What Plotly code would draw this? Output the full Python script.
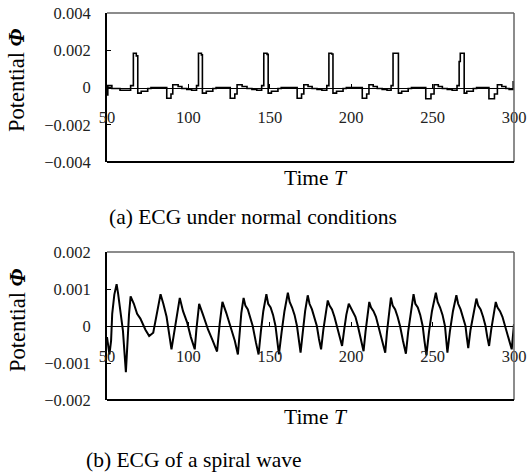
import plotly.graph_objects as go

# ---------------- data ----------------
# (a) normal ECG, stepped signal
top_t = [50.0, 50.5, 53.0, 58.0, 64.5, 66.2, 68.0, 68.9, 71.0, 75.0, 77.0, 86.7, 89.3, 90.4, 93.7, 96.0, 99.0, 102.0, 105.0,
         106.2, 108.0, 108.6, 111.0, 115.0, 117.0, 125.7, 128.5, 129.9, 133.0, 136.0, 139.0, 142.0, 145.0,
         146.3, 148.3, 149.0, 151.0, 155.0, 157.0, 166.8, 169.5, 170.9, 173.5, 176.0, 179.0, 182.0, 185.0,
         186.3, 188.0, 188.8, 191.0, 195.0, 197.0, 206.8, 209.5, 210.9, 213.5, 216.0, 219.0, 222.0, 224.5,
         225.7, 228.0, 229.0, 231.0, 235.0, 237.0, 245.8, 249.0, 250.9, 253.5, 256.0, 259.0, 262.0, 265.0,
         266.3, 267.0, 269.4, 271.0, 275.0, 277.0, 284.6, 288.0, 289.8, 292.5, 295.0, 297.0, 299.5, 300.0]
top_phi = [-4.0e-4, 1.0e-4, -0.5e-4, -1.5e-4, 1.0e-4, 18.4e-4, 17.0e-4, -3.0e-4, -2.0e-4, -0.5e-4, 0.0, -5.8e-4, -3.5e-4, 1.5e-4, 0.5e-4, -0.5e-4, -1.0e-4, -1.5e-4, 1.0e-4,
           18.4e-4, 17.5e-4, -3.0e-4, -2.0e-4, -0.5e-4, 0.0, -5.8e-4, -3.5e-4, 1.5e-4, 0.5e-4, -0.5e-4, -1.0e-4, -1.5e-4, 1.0e-4,
           18.4e-4, 17.8e-4, -3.0e-4, -2.0e-4, -0.5e-4, 0.0, -5.8e-4, -3.5e-4, 1.5e-4, 0.5e-4, -0.5e-4, -1.0e-4, -1.5e-4, 1.0e-4,
           18.4e-4, 18.0e-4, -3.0e-4, -2.0e-4, -0.5e-4, 0.0, -5.8e-4, -3.5e-4, 1.5e-4, 0.5e-4, -0.5e-4, -1.0e-4, -1.5e-4, 1.0e-4,
           18.4e-4, 18.4e-4, -3.0e-4, -2.0e-4, -0.5e-4, 0.0, -6.0e-4, -3.5e-4, 1.5e-4, 0.5e-4, -0.5e-4, -1.0e-4, -1.5e-4, 1.0e-4,
           14.0e-4, 18.4e-4, -3.0e-4, -2.0e-4, -0.5e-4, 0.0, -6.0e-4, -3.5e-4, 1.5e-4, 0.5e-4, -0.5e-4, -1.0e-4, 3.0e-4, 3.0e-4]

# (b) spiral-wave ECG
bot_t = [50.0, 50.5, 51.5, 52.5, 53.2, 54.5, 55.9, 56.8, 57.8, 58.8, 59.8, 61.6, 62.5, 63.5, 64.5, 66.5, 68.5, 70.5,
         73.6, 75.9, 78.4, 80.5, 82.9, 84.6, 86.6, 89.6, 92.3, 94.7, 96.7, 99.2, 101.5, 103.9, 104.9, 106.6, 109.0,
         112.1, 115.0, 117.6, 119.2, 120.9, 123.3, 126.4, 128.5, 130.4,
         131.5, 132.5, 133.9, 135.0, 136.5, 138.0, 139.5, 141.5, 143.1,
         144.5, 146.0, 147.9, 149.0, 150.5, 152.0, 153.5, 154.5, 155.6,
         157.3, 159.0, 161.1, 162.2, 163.7, 165.2, 166.7, 167.8, 168.9,
         170.3, 171.7, 173.3, 174.4, 175.9, 177.4, 178.9, 180.2, 181.5,
         182.9, 184.2, 185.6, 186.7, 188.2, 189.7, 191.2, 192.8, 194.4,
         195.7, 197.0, 198.5, 199.6, 201.1, 202.6, 204.1, 205.9, 207.6,
         208.8, 209.9, 211.1, 212.2, 213.7, 215.2, 216.7, 218.8, 220.9,
         222.0, 223.1, 224.4, 225.5, 227.0, 228.5, 230.0, 231.8, 233.6,
         235.0, 236.6, 238.3, 239.4, 240.9, 242.4, 243.9, 245.0, 246.2,
         247.8, 249.6, 252.0, 253.1, 254.6, 256.1, 257.6, 258.4, 259.1,
         260.6, 262.5, 264.6, 265.7, 267.2, 268.7, 270.2, 271.0, 271.9,
         273.3, 275.0, 276.9, 278.0, 279.5, 281.0, 282.5, 283.6, 284.7,
         286.0, 287.4, 288.8, 289.9, 291.4, 292.9, 294.4, 296.5, 298.6, 300.0]
bot_phi = [-3.0e-4, -5.0e-4, -7.7e-4, -4.0e-4, 3.3e-4, 8.5e-4, 11.3e-4, 8.8e-4, 5.0e-4, 2.5e-4, -1.3e-4, -12.5e-4, -4.0e-4, 3.0e-4, 8.0e-4, 6.0e-4, 3.3e-4, 2.0e-4,
           -1.0e-4, -2.7e-4, -1.8e-4, 3.3e-4, 8.6e-4, 6.0e-4, 2.5e-4, -6.3e-4, 1.0e-4, 7.6e-4, 4.0e-4, 1.0e-4, -3.0e-4, -6.3e-4, -1.0e-4, 6.0e-4, 3.0e-4,
           -1.0e-4, -4.0e-4, -6.9e-4, 0.5e-4, 6.5e-4, 3.5e-4, -1.0e-4, -4.0e-4, -7.7e-4,
           -1.5e-4, 3.5e-4, 7.6e-4, 5.5e-4, 4.5e-4, 2.5e-4, 0.0, -4.5e-4, -7.7e-4,
           -1.5e-4, 4.0e-4, 8.6e-4, 6.0e-4, 5.0e-4, 3.0e-4, 0.0, -4.0e-4, -7.7e-4,
           -1.5e-4, 4.0e-4, 9.0e-4, 6.5e-4, 5.0e-4, 3.0e-4, 0.0, -4.0e-4, -7.2e-4,
           -1.5e-4, 4.0e-4, 8.3e-4, 6.0e-4, 4.5e-4, 2.5e-4, 0.0, -3.5e-4, -6.3e-4,
           -1.0e-4, 3.5e-4, 6.9e-4, 5.5e-4, 4.5e-4, 2.5e-4, 0.0, -3.0e-4, -5.4e-4,
           -1.0e-4, 3.0e-4, 6.0e-4, 5.0e-4, 4.0e-4, 2.5e-4, 0.0, -3.5e-4, -6.8e-4,
           -1.5e-4, 3.0e-4, 6.5e-4, 5.0e-4, 4.0e-4, 2.5e-4, 0.0, -3.5e-4, -7.2e-4,
           -1.5e-4, 3.5e-4, 7.7e-4, 5.5e-4, 4.5e-4, 2.5e-4, 0.0, -4.0e-4, -7.5e-4,
           -1.5e-4, 4.0e-4, 8.6e-4, 6.0e-4, 5.0e-4, 3.0e-4, 0.0, -4.0e-4, -7.9e-4,
           -1.5e-4, 4.0e-4, 9.0e-4, 6.5e-4, 5.0e-4, 3.0e-4, 0.0, -3.5e-4, -7.2e-4,
           -1.5e-4, 4.0e-4, 8.3e-4, 6.0e-4, 4.5e-4, 2.5e-4, 0.0, -3.0e-4, -6.0e-4,
           -1.0e-4, 3.5e-4, 7.4e-4, 5.5e-4, 4.5e-4, 2.5e-4, 0.0, -3.0e-4, -5.4e-4,
           -1.0e-4, 3.0e-4, 6.5e-4, 5.0e-4, 4.0e-4, 2.5e-4, 0.0, -3.5e-4, -6.3e-4, 0.5e-4]

x_ticks = [50, 100, 150, 200, 250, 300]
x_ticktext = ["50", "100", "150", "200", "250", "300"]
top_yticks = [-0.004, -0.002, 0, 0.002, 0.004]
top_yticktext = ["\u22120.004", "\u22120.002", "0", "0.002", "0.004"]
bot_yticks = [-0.002, -0.001, 0, 0.001, 0.002]
bot_yticktext = ["\u22120.002", "\u22120.001", "0", "0.001", "0.002"]

x_title = "Time <i>T</i>"
y_title = "Potential <b><i>\u03a6</i></b>"
caption_a = "(a) ECG under normal conditions"
caption_b = "(b) ECG of a spiral wave"

# ---------------- figure ----------------
W, H = 528, 475
def px_x(p):
    return p / W
def px_y(p):
    return 1 - p / H

xdom = [px_x(107), px_x(514)]
top_dom = [px_y(162), px_y(13)]
bot_dom = [px_y(400), px_y(252)]

tick_font = dict(family="Liberation Serif, DejaVu Serif, serif", size=16.5, color="#222")
text_font = dict(family="Liberation Serif, serif", size=21.5, color="black")
ytitle_font = dict(family="Liberation Serif, serif", size=22.5, color="black")

fig = go.Figure()
fig.add_trace(go.Scatter(x=top_t, y=top_phi, mode="lines",
                         line=dict(color="black", width=1.6, shape="hv"),
                         xaxis="x", yaxis="y", showlegend=False, hoverinfo="skip"))
fig.add_trace(go.Scatter(x=bot_t, y=bot_phi, mode="lines",
                         line=dict(color="black", width=2),
                         xaxis="x2", yaxis="y2", showlegend=False, hoverinfo="skip"))

xcommon = dict(range=[50, 300], tickvals=x_ticks, ticktext=x_ticktext, showgrid=False, zeroline=False,
               showline=True, linecolor="black", linewidth=1, ticks="inside", ticklen=4,
               tickcolor="black", tickfont=tick_font, ticklabelstandoff=15, domain=xdom,
               anchor="free", fixedrange=True, automargin=False)
ycommon = dict(showgrid=False, zeroline=False, showline=True, linecolor="black", linewidth=2,
               ticks="inside", ticklen=4, tickcolor="black", tickfont=tick_font,
               ticklabelstandoff=11, fixedrange=True, automargin=False)

fig.update_layout(
    width=W, height=H, margin=dict(l=0, r=0, t=0, b=0, pad=0, autoexpand=False),
    paper_bgcolor="white", plot_bgcolor="white",
    font=dict(family="Liberation Serif, serif", color="black"),
    xaxis=dict(**xcommon, position=(top_dom[0] + top_dom[1]) / 2),
    yaxis=dict(**ycommon, domain=top_dom, range=[-0.004, 0.004], tickvals=top_yticks,
               ticktext=top_yticktext, anchor="x"),
    xaxis2=dict(**xcommon, position=(bot_dom[0] + bot_dom[1]) / 2),
    yaxis2=dict(**ycommon, domain=bot_dom, range=[-0.002, 0.002], tickvals=bot_yticks,
                ticktext=bot_yticktext, anchor="x2"),
)

shapes = []
for xr, yr in (("x domain", "y domain"), ("x2 domain", "y2 domain")):
    shapes.append(dict(type="line", xref=xr, yref=yr, x0=0, x1=1, y0=1, y1=1,
                       line=dict(color="#666", width=1.5)))
    shapes.append(dict(type="line", xref=xr, yref=yr, x0=1, x1=1, y0=0, y1=1,
                       line=dict(color="#666", width=1.5)))
    shapes.append(dict(type="line", xref=xr, yref=yr, x0=0, x1=1, y0=0, y1=0,
                       line=dict(color="black", width=2)))
fig.update_layout(shapes=shapes)

ann = [
    dict(text=x_title, x=px_x(316), y=px_y(178), font=text_font),
    dict(text=x_title, x=px_x(316), y=px_y(417), font=text_font),
    dict(text=caption_a, x=px_x(253), y=px_y(217), font=text_font),
    dict(text=caption_b, x=px_x(194), y=px_y(460), font=text_font),
    dict(text=y_title, x=px_x(17), y=px_y(80), textangle=-90, font=ytitle_font),
    dict(text=y_title, x=px_x(17), y=px_y(320), textangle=-90, font=ytitle_font),
]
for a in ann:
    a.update(xref="paper", yref="paper", showarrow=False,
             xanchor="center", yanchor="middle")
fig.update_layout(annotations=ann)

fig.write_html("out.html", config=dict(displayModeBar=False, staticPlot=True),
               post_script="document.body.style.margin='0px';document.body.style.overflow='hidden';")
